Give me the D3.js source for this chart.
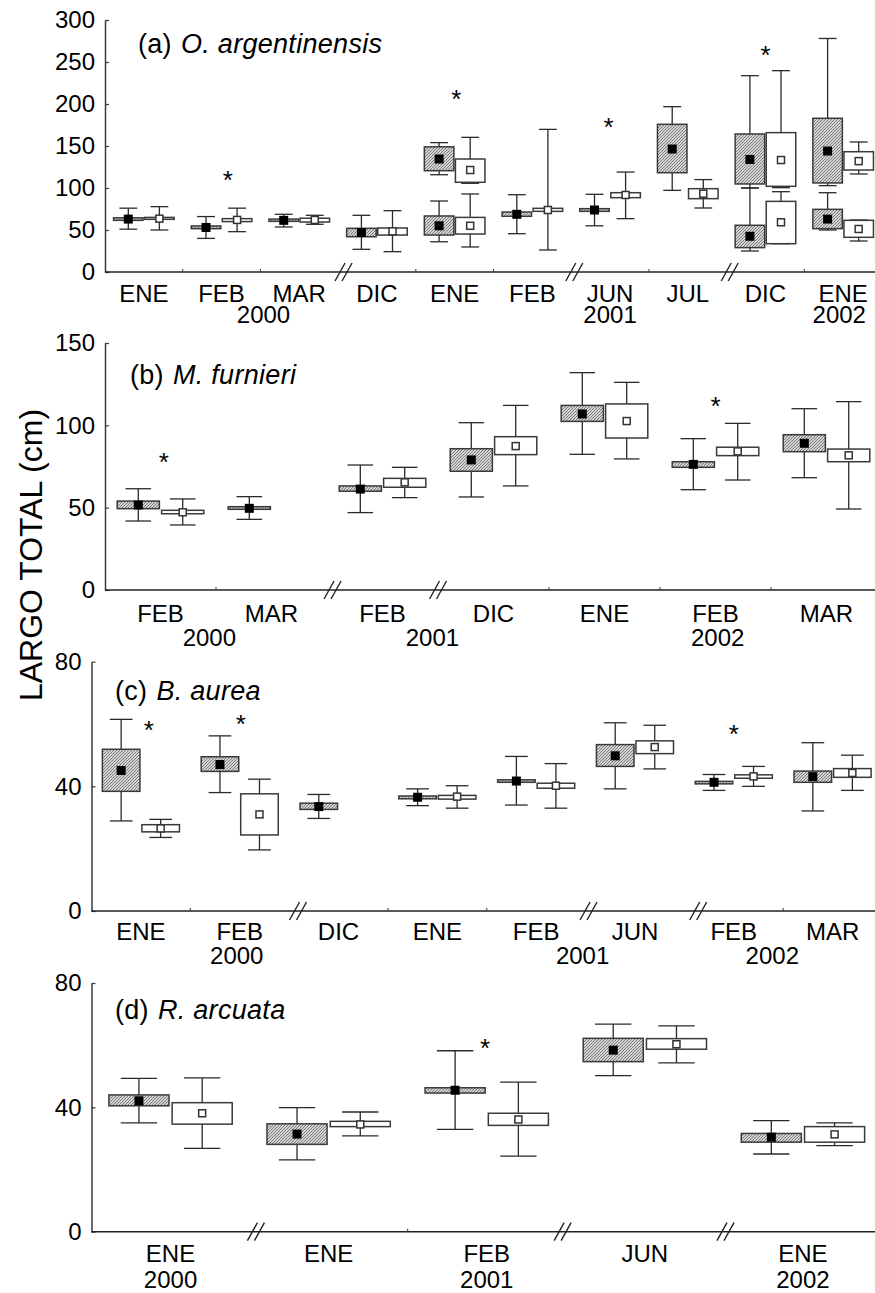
<!DOCTYPE html>
<html><head><meta charset="utf-8">
<script src="https://cdn.jsdelivr.net/npm/d3@7"></script>
<style>
body{margin:0;background:#fff}
svg{display:block}
text{font-family:"Liberation Sans",Arial,Helvetica,sans-serif;fill:#000}
</style>
</head><body><svg id="chart" width="875" height="1293"></svg>
<script>
// ---------- DATA ----------
// rows: [categoryIndex, mean, boxLow, boxHigh, whiskerLow, whiskerHigh]
const catsA = ["ENE","FEB","MAR","DIC","ENE","FEB","JUN","JUL","DIC","ENE"];
const yearsA = [["2000",2.04],["2001",6.5],["2002",9.45]];
const hatchedA = [
  [0,63,61.5,64.5,51,76],[1,53,51.6,54.8,40,66],[2,61.5,60.3,63,53.6,68.7],
  [3,47,42,52,27,67.5],[4,134.5,120.6,149,115.8,154],[4,55,44,66.7,36,84.5],
  [5,68.7,66.3,71.4,45.6,92],[6,73.8,72.2,75.4,55,92.5],[7,146.4,118.2,175.8,97.2,196.8],
  [8,134,104.8,164.3,100,233.7],[8,42.5,29,55.6,25,100],
  [9,144,106,183,102.8,278],[9,63,51.6,74.6,50,94.4]
];
const whiteA = [
  [0,63.5,62.7,65,50,77.8],[1,62,60,63.5,48,76],[2,62,59.5,64,56.8,67.5],
  [3,48.4,44,52.4,24.2,73],[4,121.4,106.8,134.5,105.6,160.3],[4,55,45.2,65,29.8,92.9],
  [5,73.8,72.2,75.8,26.2,169.8],[6,91.7,88.5,94.4,63.5,119],[7,93.2,87.3,99.2,76.2,110],
  [8,133.3,102,165.9,100.4,239.7],[8,59.2,33.7,84.1,33.7,95.6],
  [9,132,121.4,143.2,116.7,154.8],[9,51.2,41.3,61.5,36.9,61.9]
];
const starsA = [[1.58,116.7],[4.52,213],[6.48,180],[8.5,265]];
const breaksA = [3.07,6.04,8.04];
const ticksA = [0,50,100,150,200,250,300];

const catsB = ["FEB","MAR","FEB","DIC","ENE","FEB","MAR"];
const yearsB = [["2000",0.94],["2001",2.95],["2002",5.52]];
const hatchedB = [
  [0,51.6,49.4,54,41.9,61.5],[1,49.6,49,50.6,42.9,56.7],[2,61.3,60,63.2,47,75.9],
  [3,79,72.1,85.8,56.5,101.6],[4,106.9,102.4,112.1,82.4,132],[5,76.3,74.5,77.9,60.9,91.9],
  [6,89.1,84,94.3,68.2,110.1]
];
const whiteB = [
  [0,47.2,46.3,48.4,39.5,55.3],[2,65.4,62.4,67.8,56.1,74.5],[3,87.4,82.2,93.1,63.2,112.1],
  [4,102.6,92.3,113,79.6,126.1],[5,84.2,81.6,86.7,66.8,101.2],[6,81.8,77.9,85.6,49.2,114.4]
];
const starsB = [[0.53,81.4],[5.5,115.4]];
const breaksB = [2.05,3.0];
const ticksB = [0,50,100,150];

const catsC = ["ENE","FEB","DIC","ENE","FEB","JUN","FEB","MAR"];
const yearsC = [["2000",1.47],["2001",4.97],["2002",6.89]];
const hatchedC = [
  [0,45.1,38.4,51.9,28.9,61.5],[1,47,44.8,49.5,38,56.2],[2,33.5,32.6,34.6,29.7,37.4],
  [3,36.5,36,36.9,33.8,39.2],[4,41.7,41.3,42.1,34,49.6],[5,49.8,46.4,53.4,39.2,60.4],
  [6,41.3,40.8,41.6,38.7,43.8],[7,43.1,41.3,44.9,32.1,54]
];
const whiteC = [
  [0,26.5,25.4,27.7,23.6,29.4],[1,31,24.4,37.6,19.6,42.3],[3,36.7,35.9,37.1,33,40.2],
  [4,40.2,39.4,41,33,47.3],[5,52.6,50.5,54.6,45.6,59.6],[6,43.2,42.6,43.7,40,46.4],
  [7,44.3,42.9,45.7,38.7,50]
];
const starsC = [[0.58,59.9],[1.51,61.8],[6.5,58.6]];
const breaksC = [2.09,5.03,6.14];
const ticksC = [0,40,80];

const catsD = ["ENE","ENE","FEB","JUN","ENE"];
const yearsD = [["2000",0.5],["2001",2.5],["2002",4.5]];
const hatchedD = [
  [0,42.1,40.5,44,35,49.3],[1,31.4,28.1,34.7,23.1,39.9],[2,45.5,44.6,46.3,32.9,58.2],
  [3,58.4,54.7,62.2,50.2,66.8],[4,30.4,28.8,31.6,25,35.7]
];
const whiteD = [
  [0,38.1,34.6,41.5,26.8,49.5],[1,34.5,33.8,35.5,30.8,38.5],[2,36.1,34.2,38.1,24.3,48.1],
  [3,60.3,58.7,62.1,54.3,66.2],[4,31.3,28.8,33.8,27.7,35]
];
const starsD = [[2.49,61.1]];
const breaksD = [1.04,2.98,4.01];
const ticksD = [0,40,80];

// ---------- LAYOUT ----------
const panels = [
  {tag:"(a)", name:"O. argentinensis", cats:catsA, years:yearsA, hatched:hatchedA, white:whiteA,
   stars:starsA, breaks:breaksA, ticks:ticksA, yMax:300, x0:105, x1:882, yB:272, yT:20,
   tx:138, ty:53, mDy:29.5, yDy:51},
  {tag:"(b)", name:"M. furnieri", cats:catsB, years:yearsB, hatched:hatchedB, white:whiteB,
   stars:starsB, breaks:breaksB, ticks:ticksB, yMax:150, x0:105, x1:882, yB:590, yT:343,
   tx:130, ty:384, mDy:31.5, yDy:55.5},
  {tag:"(c)", name:"B. aurea", cats:catsC, years:yearsC, hatched:hatchedC, white:whiteC,
   stars:starsC, breaks:breaksC, ticks:ticksC, yMax:80, x0:91.5, x1:882, yB:911, yT:661.7,
   tx:115, ty:700, mDy:29, yDy:53},
  {tag:"(d)", name:"R. arcuata", cats:catsD, years:yearsD, hatched:hatchedD, white:whiteD,
   stars:starsD, breaks:breaksD, ticks:ticksD, yMax:80, x0:91.5, x1:882, yB:1231.7, yT:983,
   tx:115, ty:1019, mDy:30, yDy:56.5}
];

const svg = d3.select("#chart");
const defs = svg.append("defs");
const pat = defs.append("pattern").attr("id","hatch").attr("patternUnits","userSpaceOnUse")
  .attr("width",3).attr("height",3);
pat.append("rect").attr("width",3).attr("height",3).attr("fill","#d4d4d4");
pat.append("path").attr("d","M-0.75,0.75 L0.75,-0.75 M0,3 L3,0 M2.25,3.75 L3.75,2.25")
  .attr("stroke","#707070").attr("stroke-width",0.9);

const AX = "#3a3a3a";

panels.forEach(p => {
  const g = svg.append("g");
  const n = p.cats.length;
  const xl = d3.scaleLinear().domain([0,n]).range([p.x0,p.x1]);
  const xb = d3.scaleBand().domain(d3.range(n)).range([p.x0,p.x1]).padding(0);
  const bw = xb.bandwidth();
  const y = d3.scaleLinear().domain([0,p.yMax]).range([p.yB,p.yT]);

  // y axis
  const ya = d3.axisLeft(y).tickValues(p.ticks).tickSizeInner(-4).tickSizeOuter(0).tickPadding(10);
  const yg = g.append("g").attr("transform",`translate(${p.x0},0)`).call(ya);
  yg.select(".domain").attr("stroke",AX).attr("stroke-width",1.5);
  yg.selectAll(".tick line").attr("stroke",AX).attr("stroke-width",1.2);
  yg.selectAll(".tick text").attr("font-size",24).attr("font-family","'Liberation Sans',Arial,sans-serif").attr("fill","#000");

  // x axis line
  g.append("line").attr("x1",p.x0).attr("x2",875).attr("y1",p.yB).attr("y2",p.yB)
    .attr("stroke","#222").attr("stroke-width",1.5);
  // ticks at boundaries without breaks
  const bset = p.breaks.map(b=>Math.round(b));
  d3.range(1,n).filter(k=>!bset.includes(k)).forEach(k=>{
    g.append("line").attr("x1",xl(k)).attr("x2",xl(k)).attr("y1",p.yB).attr("y2",p.yB-3)
      .attr("stroke",AX).attr("stroke-width",1);
  });
  // breaks
  p.breaks.forEach(b=>{
    const cx = xl(b);
    [-3.5,3.5].forEach(o=>{
      g.append("line").attr("x1",cx+o-5).attr("y1",p.yB+9).attr("x2",cx+o+5).attr("y2",p.yB-9)
        .attr("stroke","#222").attr("stroke-width",1.4);
    });
  });
  // month labels
  g.selectAll("text.mon").data(p.cats).join("text").attr("class","mon")
    .attr("x",(d,i)=>xb(i)+bw/2).attr("y",p.yB+p.mDy).attr("text-anchor","middle")
    .attr("font-size",24).text(d=>d);
  // year labels
  g.selectAll("text.yr").data(p.years).join("text").attr("class","yr")
    .attr("x",d=>xl(d[1])).attr("y",p.yB+p.yDy).attr("text-anchor","middle")
    .attr("font-size",24).text(d=>d[0]);

  // title
  const t = g.append("text").attr("x",p.tx).attr("y",p.ty).attr("font-size",27).attr("letter-spacing",0.3);
  t.append("tspan").text(p.tag);
  t.append("tspan").attr("dx",9).attr("font-style","italic").text(p.name);

  // boxes
  const boxW = bw*0.38, capW = bw*0.23, off = bw*0.2;
  function drawBoxes(rows, side, hatched){
    const gg = g.append("g");
    rows.forEach(r=>{
      const [c,mean,bl,bh,wl,wh] = r;
      const cx = xb(c)+bw/2 + side*off;
      gg.append("line").attr("x1",cx).attr("x2",cx).attr("y1",y(wl)).attr("y2",y(wh))
        .attr("stroke","#2a2a2a").attr("stroke-width",1.3);
      [wl,wh].forEach(v=>gg.append("line").attr("x1",cx-capW/2).attr("x2",cx+capW/2)
        .attr("y1",y(v)).attr("y2",y(v)).attr("stroke","#2a2a2a").attr("stroke-width",1.3));
      gg.append("rect").attr("x",cx-boxW/2).attr("y",y(bh)).attr("width",boxW)
        .attr("height",Math.max(1,y(bl)-y(bh)))
        .attr("fill",hatched?"url(#hatch)":"#fff").attr("stroke","#3a3a3a").attr("stroke-width",1.5);
      if(hatched){
        gg.append("rect").attr("x",cx-4.5).attr("y",y(mean)-4.5).attr("width",9).attr("height",9).attr("fill","#000");
      } else {
        gg.append("rect").attr("x",cx-3.5).attr("y",y(mean)-3.5).attr("width",7).attr("height",7)
          .attr("fill","#fff").attr("stroke","#333").attr("stroke-width",1.5);
      }
    });
  }
  drawBoxes(p.hatched,-1,true);
  drawBoxes(p.white,1,false);

  // asterisks
  g.selectAll("text.star").data(p.stars).join("text").attr("class","star")
    .attr("x",d=>xl(d[0])).attr("y",d=>y(d[1])+15).attr("text-anchor","middle")
    .attr("font-size",26).text("*");
});

// y-axis title
svg.append("text").attr("transform","translate(42,555) rotate(-90)").attr("text-anchor","middle")
  .attr("font-size",32).text("LARGO TOTAL (cm)");
</script></body></html>
